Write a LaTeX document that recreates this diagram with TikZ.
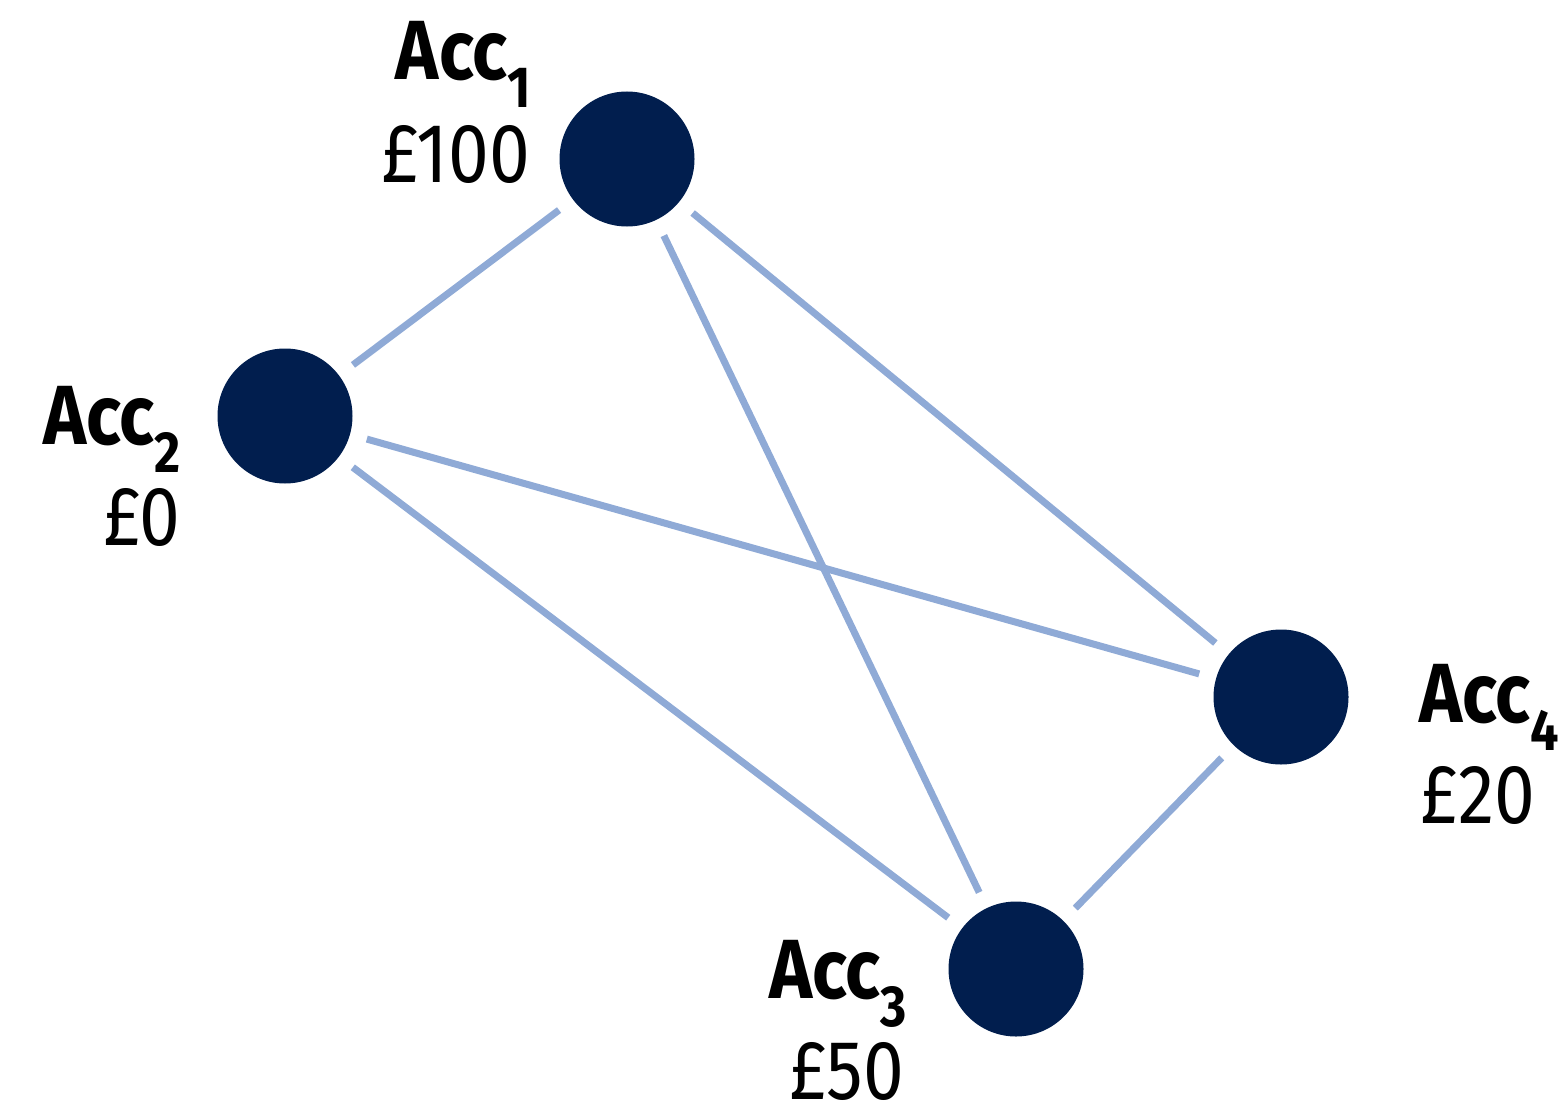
\documentclass[tikz,border=0pt]{standalone}
\usepackage{fontspec}
\setmainfont{Fira Sans}[FakeStretch=0.87]
\definecolor{acnode}{HTML}{011E4E}
\definecolor{aclink}{HTML}{8FAAD6}
\newcommand\accname[1]{{\bfseries Acc}\raisebox{-28pt}{\fontsize{58}{58}\selectfont\bfseries #1}}
\tikzset{
  account/.style={circle, fill=acnode, minimum size=135pt, inner sep=0pt, outer sep=0pt},
  link/.style={draw=aclink, line width=7pt, shorten <=17.5pt, shorten >=17.5pt},
  lbl/.style={inner sep=0pt, outer sep=0pt, font=\fontsize{84}{100}\selectfont}
}
\begin{document}
\begin{tikzpicture}[x=1pt, y=-1pt]
\useasboundingbox (0,0) rectangle (1562,1105);

% accounts
\node[account] (a1) at (627,159) {};
\node[account] (a2) at (285,416) {};
\node[account] (a3) at (1016,969) {};
\node[account] (a4) at (1281,697) {};

% transfers between accounts
\draw[link] (a1) -- (a2);
\draw[link] (a1) -- (a3);
\draw[link] (a1) -- (a4);
\draw[link] (a2) -- (a4);
\draw[link] (a2) -- (a3);
\draw[link] (a4) -- (a3);

% names and balances
\node[lbl, anchor=base east] (n1) at (531,80) {\accname{1}};
\node[lbl, anchor=base east] (b1) at (530,182) {£100};
\node[lbl, anchor=base east] (n2) at (181,444) {\accname{2}};
\node[lbl, anchor=base east] (b2) at (180,545) {£0};
\node[lbl, anchor=base east] (n3) at (907,998) {\accname{3}};
\node[lbl, anchor=base east] (b3) at (904,1099) {£50};
\node[lbl, anchor=base west] (n4) at (1419,722) {\accname{4}};
\node[lbl, anchor=base west] (b4) at (1420,823) {£20};
\end{tikzpicture}
\end{document}
